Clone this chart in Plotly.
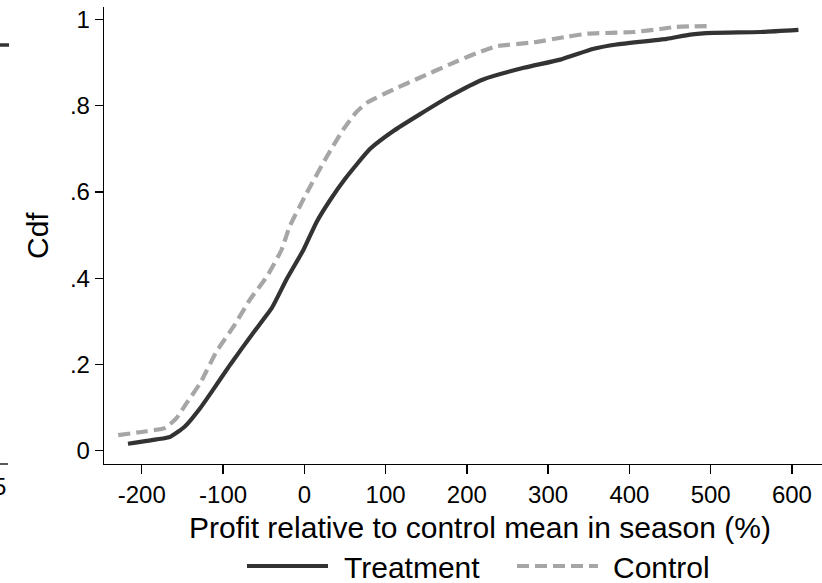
import plotly.graph_objects as go

# Data
treat_x = [-217, -182, -165, -147, -128, -112, -91, -63, -40, -22, -1, 15, 32, 50, 81,
           110, 142, 179, 220, 270, 315, 356, 384, 446, 475, 503, 561, 608]
treat_y = [0.016, 0.026, 0.032, 0.056, 0.099, 0.142, 0.200, 0.273, 0.331, 0.397, 0.466,
           0.530, 0.582, 0.630, 0.700, 0.742, 0.780, 0.822, 0.861, 0.888, 0.907, 0.932,
           0.942, 0.955, 0.965, 0.969, 0.971, 0.976]

ctrl_x = [-229, -194, -171, -157, -145, -128, -108, -87, -67, -46, -28, -18, 3, 28, 48,
          64, 77, 110, 142, 179, 212, 237, 282, 323, 348, 405, 438, 458, 503]
ctrl_y = [0.036, 0.045, 0.053, 0.076, 0.110, 0.157, 0.230, 0.288, 0.350, 0.404, 0.466,
          0.520, 0.598, 0.683, 0.745, 0.785, 0.807, 0.838, 0.865, 0.896, 0.922, 0.938,
          0.947, 0.960, 0.967, 0.971, 0.978, 0.983, 0.985]

x_ticks = [-200, -100, 0, 100, 200, 300, 400, 500, 600]
x_tick_labels = ["-200", "-100", "0", "100", "200", "300", "400", "500", "600"]
y_ticks = [0, 0.2, 0.4, 0.6, 0.8, 1.0]
y_tick_labels = ["0", ".2", ".4", ".6", ".8", "1"]

x_title = "Profit relative to control mean in season (%)"
y_title = "Cdf"
series_names = ["Treatment", "Control"]

W, H = 822, 583
ML, MR, MT, MB = 104, 0, 7, 119
PW, PH = W - ML - MR, H - MT - MB

def px(X):
    return (X - ML) / PW

def py(Y):
    return (H - MB - Y) / PH

FONT = "Liberation Sans, Arial, sans-serif"
TREAT_COLOR = "#333333"
CTRL_COLOR = "#a6a6a6"
TICK_SIZE = 24
LABEL_SIZE = 30

fig = go.Figure()
fig.add_trace(go.Scatter(x=treat_x, y=treat_y, mode="lines", name=series_names[0],
                         line=dict(color=TREAT_COLOR, width=4.2, shape="spline", smoothing=0.5),
                         showlegend=False))
fig.add_trace(go.Scatter(x=ctrl_x, y=ctrl_y, mode="lines", name=series_names[1],
                         line=dict(color=CTRL_COLOR, width=4.2, dash="12px,6px",
                                   shape="spline", smoothing=0.5),
                         showlegend=False))

fig.update_layout(
    width=W, height=H,
    margin=dict(l=ML, r=MR, t=MT, b=MB, autoexpand=False),
    paper_bgcolor="white", plot_bgcolor="white",
    font=dict(family=FONT, color="black"),
    xaxis=dict(range=[-246.5, 637], tickvals=x_ticks, ticktext=x_tick_labels,
               showgrid=False, zeroline=False,
               showline=True, linecolor="black", linewidth=1.3,
               ticks="outside", ticklen=9, tickwidth=1.3, tickcolor="black",
               tickfont=dict(size=TICK_SIZE, family=FONT), automargin=False),
    yaxis=dict(range=[-0.031, 1.029], tickvals=y_ticks, ticktext=y_tick_labels,
               showgrid=False, zeroline=False,
               showline=True, linecolor="black", linewidth=1.3,
               ticks="outside", ticklen=8, tickwidth=1.3, tickcolor="black",
               tickfont=dict(size=TICK_SIZE, family=FONT), automargin=False),
)

annotations = [
    dict(text=x_title, x=px(480), y=py(527), xref="paper", yref="paper",
         showarrow=False, xanchor="center", yanchor="middle",
         font=dict(size=LABEL_SIZE, family=FONT)),
    dict(text=y_title, x=px(37), y=py(236), xref="paper", yref="paper",
         showarrow=False, xanchor="center", yanchor="middle", textangle=-90,
         font=dict(size=LABEL_SIZE, family=FONT)),
    dict(text=series_names[0], x=px(342), y=py(567), xref="paper", yref="paper",
         showarrow=False, xanchor="left", yanchor="middle",
         font=dict(size=LABEL_SIZE, family=FONT)),
    dict(text=series_names[1], x=px(611), y=py(567), xref="paper", yref="paper",
         showarrow=False, xanchor="left", yanchor="middle",
         font=dict(size=LABEL_SIZE, family=FONT)),
    # cropped neighbour panel remnant (cut at the left edge, as in the reference)
    dict(text="5", x=px(8), y=py(487), xref="paper", yref="paper",
         showarrow=False, xanchor="right", yanchor="middle",
         font=dict(size=TICK_SIZE, family=FONT)),
]
fig.update_layout(annotations=annotations)

shapes = [
    dict(type="line", xref="paper", yref="paper", x0=px(247), x1=px(328),
         y0=py(566), y1=py(566), line=dict(color=TREAT_COLOR, width=4.2)),
    dict(type="line", xref="paper", yref="paper", x0=px(517), x1=px(598),
         y0=py(566), y1=py(566), line=dict(color=CTRL_COLOR, width=4.2, dash="12px,6px")),
    # cropped neighbour panel remnants
    dict(type="line", xref="paper", yref="paper", x0=px(-10), x1=px(9),
         y0=py(45), y1=py(45), line=dict(color=TREAT_COLOR, width=3.5)),
    dict(type="line", xref="paper", yref="paper", x0=px(-10), x1=px(8),
         y0=py(464), y1=py(464), line=dict(color="black", width=1.3)),
]
fig.update_layout(shapes=shapes)

fig.write_html("out.html",
               config={"displayModeBar": False, "staticPlot": True},
               post_script="document.body.style.margin='0';document.body.style.overflow='hidden';")
